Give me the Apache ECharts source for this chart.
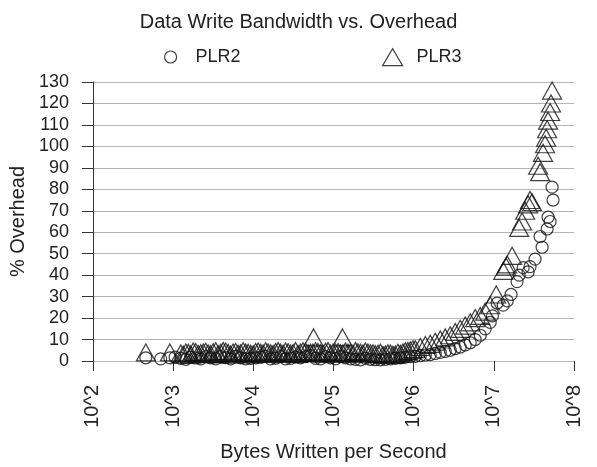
<!DOCTYPE html>
<html>
<head>
<meta charset="utf-8">
<script src="https://cdn.jsdelivr.net/npm/echarts@6/dist/echarts.min.js"></script>
<style>
html,body{margin:0;padding:0;background:#fff;}
#chart{width:597px;height:467px;}
</style>
</head>
<body>
<div id="chart"></div>
<script>
// ---- data (bytes written per second, % overhead) ----
const plr2X = [457, 700, 910, 1060, 1245, 1440, 1660, 1910, 2210, 2550, 2940, 3400, 3920, 4530, 5220, 6030, 6960, 8030, 9270, 10700, 12340, 14250, 16440, 18970, 21900, 25300, 29200, 33650, 38800, 44850, 51700, 59750, 68900, 79600, 91800, 106000, 122000, 141000, 163000, 188000, 217000, 250000, 289000, 333000, 385000, 444000, 513000, 591000, 683000, 788000, 910000,
  1.05e6, 1.21e6, 1.40e6, 1.61e6, 1.86e6, 2.15e6, 2.48e6, 2.86e6, 3.30e6, 3.81e6, 4.40e6, 5.08e6, 5.86e6, 6.77e6, 7.81e6, 9.02e6, 9.6e6, 1.10e7, 1.31e7, 1.47e7, 1.64e7, 1.95e7, 2.07e7, 2.32e7, 2.68e7, 2.83e7, 3.27e7, 3.78e7, 4.0e7, 4.62e7, 4.75e7, 5.03e7, 5.48e7, 5.33e7];
const plr2Y = [1.5, 1.0, 1.5, 1.8, 1.2, 0.8, 1.8, 1.4, 1.0, 2.0, 1.5, 1.0, 2.0, 1.6, 1.0, 2.2, 1.5, 1.0, 1.2, 1.5, 1.8, 2.2, 1.0, 1.3, 2.0, 1.0, 1.2, 1.8, 1.5, 2.0, 2.5, 1.2, 1.0, 2.0, 1.5, 1.0, 2.0, 1.5, 1.0, 0.8, 0.5, 1.2, 0.8, 0.6, 0.5, 0.8, 1.0, 1.2, 1.5, 1.8, 2.0,
  2.2, 2.5, 2.8, 3.0, 3.5, 4.0, 4.5, 5.0, 5.8, 6.5, 7.5, 8.5, 10.0, 12.0, 15.0, 18.0, 21.0, 27.0, 26.0, 28.0, 31.0, 37.0, 40.0, 43.5, 41.5, 44.0, 47.5, 58.0, 53.0, 61.5, 67.0, 65.0, 75.0, 81.0];

const plr3X = [457, 910, 1245, 1340, 1440, 1550, 1660, 1780, 1910, 2060, 2210, 2380, 2550, 2740, 2940, 3160, 3400, 3650, 3920, 4210, 4530, 4870, 5220, 5600, 6030, 6480, 6960, 7480, 8030, 8630, 9270, 9960, 10700, 11500, 12340, 13250, 14250, 15300, 16440, 17650, 18970, 20400, 21900, 23550, 25300, 27200, 29200, 31350, 33650, 36150, 38800, 41700, 44850, 48150, 51700, 55500, 56400, 59750, 64150, 68900, 74050, 79600, 85500, 91800, 98700, 106000, 114000, 122000, 129500, 131000, 141000, 152000, 163000, 175000, 188000, 202000, 217000, 233000, 250000, 269000, 289000, 311000, 333000, 359000, 385000, 414000, 444000, 477000, 513000, 551000, 591000, 636000, 683000, 734000, 788000, 847000, 910000, 980000,
  1.05e6, 1.21e6, 1.40e6, 1.61e6, 1.86e6, 2.15e6, 2.48e6, 2.86e6, 3.30e6, 3.81e6, 4.40e6, 5.08e6, 5.86e6, 6.77e6, 7.81e6, 9.02e6, 1.07e7, 1.31e7, 1.42e7, 1.47e7, 1.69e7, 2.07e7, 2.25e7, 2.46e7, 2.68e7, 2.83e7, 3.00e7, 3.57e7, 3.78e7, 4.11e7, 4.36e7, 4.49e7, 4.62e7, 4.75e7, 5.03e7, 5.17e7, 5.33e7];
const plr3Y = [4.0, 4.0, 3.5, 3.0, 4.0, 3.8, 3.0, 4.4, 4.2, 3.3, 3.6, 4.0, 4.3, 3.5, 3.2, 4.1, 4.5, 3.2, 3.8, 4.6, 4.4, 3.7, 3.0, 4.0, 4.2, 3.4, 3.6, 4.5, 4.0, 3.8, 3.4, 3.1, 4.2, 4.4, 3.8, 3.5, 4.5, 4.0, 3.6, 3.3, 4.2, 4.6, 3.9, 3.4, 4.4, 4.1, 3.5, 3.7, 4.6, 3.3, 4.0, 4.5, 4.3, 3.6, 3.8, 3.9, 11.0, 4.5, 4.2, 3.7, 3.4, 4.3, 4.6, 3.5, 3.8, 4.0, 4.2, 3.6, 11.0, 3.5, 4.4, 3.9, 4.0, 3.4, 4.6, 4.1, 3.8, 3.5, 4.4, 4.0, 3.6, 3.6, 3.2, 3.4, 3.8, 2.8, 3.0, 3.6, 3.5, 2.9, 3.0, 3.8, 3.4, 4.0, 4.5, 4.6, 5.0, 5.5,
  5.5, 6.5, 7.5, 8.0, 9.0, 10.0, 11.0, 12.0, 13.5, 15.0, 16.5, 18.0, 20.0, 21.0, 23.0, 26.0, 31.0, 42.0, 44.0, 45.0, 49.0, 62.0, 65.0, 70.0, 73.0, 75.0, 74.0, 91.0, 88.0, 97.0, 101.0, 104.0, 108.0, 112.0, 116.0, 120.0, 126.0];

const titleText = 'Data Write Bandwidth vs. Overhead';
const seriesNames = ['PLR2', 'PLR3'];
const xName = 'Bytes Written per Second';
const yName = '% Overhead';

const zip = (xs, ys) => xs.map((x, i) => [x, ys[i]]);
const FONT = '"Liberation Sans", Arial, Helvetica, sans-serif';
const hollow = { color: 'rgba(0,0,0,0)', borderColor: '#111', borderWidth: 1.2 };

const chart = echarts.init(document.getElementById('chart'), null, { renderer: 'canvas' });
chart.setOption({
  animation: false,
  backgroundColor: '#fff',
  title: {
    text: titleText, left: 'center', top: 7,
    textStyle: { fontFamily: FONT, fontSize: 20, fontWeight: 'normal', color: '#222' }
  },
  legend: [
    {
      data: [{ name: seriesNames[0], icon: 'circle' }],
      left: 159, top: 43, itemWidth: 40, itemHeight: 12,
      itemStyle: hollow,
      textStyle: { fontFamily: FONT, fontSize: 18, color: '#222' }
    },
    {
      data: [{ name: seriesNames[1], icon: 'triangle' }],
      left: 377, top: 43, itemWidth: 20, itemHeight: 17,
      itemStyle: hollow,
      textStyle: { fontFamily: FONT, fontSize: 18, color: '#222', padding: [0, 0, 0, 9] }
    }
  ],
  grid: { left: 92, right: 23, top: 82, bottom: 104 },
  xAxis: {
    type: 'log', logBase: 10, min: 100, max: 1e8, splitNumber: 6,
    name: xName, nameLocation: 'middle', nameGap: 81,
    nameTextStyle: { fontFamily: FONT, fontSize: 20, color: '#222' },
    axisLine: { show: true, lineStyle: { color: '#b5b5b5' } },
    axisTick: { show: true, length: 10, lineStyle: { color: '#333' } },
    minorTick: { show: false },
    splitLine: { show: false },
    axisLabel: {
      rotate: 90, margin: 24, fontFamily: FONT, fontSize: 20, color: '#222',
      formatter: v => '10^' + Math.round(Math.log10(v))
    }
  },
  yAxis: {
    type: 'value', min: 0, max: 130, interval: 10,
    name: yName, nameLocation: 'middle', nameGap: 62,
    nameTextStyle: { fontFamily: FONT, fontSize: 20, color: '#222' },
    axisLine: { show: true, lineStyle: { color: '#333' } },
    axisTick: { show: true, length: 11, lineStyle: { color: '#333' } },
    splitLine: { show: true, lineStyle: { color: '#b5b5b5', width: 1 } },
    axisLabel: { margin: 24, fontFamily: FONT, fontSize: 18, color: '#222' }
  },
  series: [
    {
      name: seriesNames[0], type: 'scatter', symbol: 'circle', symbolSize: 12,
      itemStyle: hollow, emphasis: { disabled: true },
      data: zip(plr2X, plr2Y)
    },
    {
      name: seriesNames[1], type: 'scatter', symbol: 'triangle', symbolSize: [19, 17],
      itemStyle: hollow, emphasis: { disabled: true },
      data: zip(plr3X, plr3Y)
    }
  ]
});
</script>
</body>
</html>
